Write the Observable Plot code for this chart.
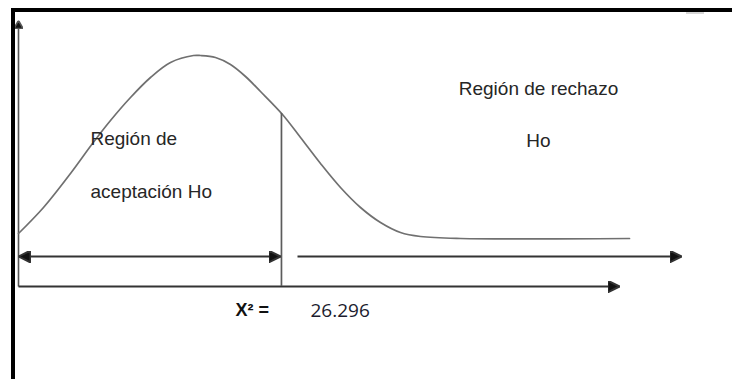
<!DOCTYPE html>
<html><head><meta charset="utf-8">
<script src="https://cdn.jsdelivr.net/npm/d3@7"></script>
<script src="https://cdn.jsdelivr.net/npm/@observablehq/plot@0.6"></script>
<style>
body{margin:0;background:#fff;}
#wrap{position:relative;width:732px;height:379px;overflow:hidden;background:#fff;}
#wrap svg{position:absolute;left:0;top:0;}
#frame{position:absolute;left:11px;top:8px;width:800px;height:400px;border-top:4px solid #000;border-left:4px solid #000;pointer-events:none;}
#smudge{position:absolute;left:686px;top:12px;width:18px;height:2px;background:#d6d6d6;}
</style></head><body>
<div id="wrap"><div id="frame"></div><div id="smudge"></div></div>
<script>
// Schematic chi-square density curve (x in statistic units, y in relative density units)
const curveX = [0, 2.5, 5.2, 7.4, 9.2, 11.2, 13.2, 15.2, 17.5, 18.2, 19.7, 21.2, 22.7, 24.2, 26.4, 28.2, 30.2, 32.2, 34.2, 36.2, 38.2, 40.2, 44.2, 61.1];
const curveY = [26.5, 39.5, 56.5, 71.5, 83, 94.5, 104.5, 112, 115.5, 115.5, 114.5, 111, 105, 97.5, 86, 74.5, 61.5, 49.5, 39.5, 32, 27, 25, 24, 24];

// Critical value
const critical = 26.296;
const criticalText = "26.296";
const statText = "X² =";

// Regions (start, end) along the statistic axis
const acceptance = [0, 26.2];
const rejection = [27.9, 66.3];
const regionArrowLevel = 15;

// Axis extents
const xAxisEnd = 60.1;
const yAxisEnd = 133;

// Region labels
const acceptText = ["Región de", "aceptación Ho"];
const acceptX = [7.2, 7.2];
const acceptY = [71, 44.5];
const rejectText = ["Región de rechazo", "Ho"];
const rejectX = [52, 52];
const rejectY = [96, 70];

const curve = curveX.map((x, i) => ({x, y: curveY[i]}));
const critHeight = d3.scaleLinear().domain(curveX).range(curveY)(critical);
const acceptLabels = acceptText.map((t, i) => ({t, x: acceptX[i], y: acceptY[i]}));
const rejectLabels = rejectText.map((t, i) => ({t, x: rejectX[i], y: rejectY[i]}));

function head(len, half) {
  return (color) => {
    const ns = "http://www.w3.org/2000/svg";
    const m = document.createElementNS(ns, "marker");
    m.setAttribute("viewBox", `0 ${-half} ${len} ${2 * half}`);
    m.setAttribute("markerUnits", "userSpaceOnUse");
    m.setAttribute("markerWidth", len);
    m.setAttribute("markerHeight", 2 * half);
    m.setAttribute("refX", len);
    m.setAttribute("refY", 0);
    m.setAttribute("orient", "auto-start-reverse");
    const p = document.createElementNS(ns, "path");
    p.setAttribute("d", `M0,${-half}L${len},0L0,${half}Z`);
    p.setAttribute("fill", "#111");
    m.appendChild(p);
    return m;
  };
}

const font = "Liberation Sans, Arial, sans-serif";
const labelStyle = {x: "x", y: "y", text: "t", lineAnchor: "bottom", fontSize: 19, fontFamily: font, fill: "#262626"};

const plot = Plot.plot({
  width: 732,
  height: 379,
  margin: 0,
  x: {domain: [-1.8, 71.4], axis: null},
  y: {domain: [-46.5, 143], axis: null},
  style: {background: "transparent", overflow: "visible"},
  marks: [
    // y axis
    Plot.link([0], {x1: 0, y1: 0, x2: 0, y2: yAxisEnd, stroke: "#555", strokeWidth: 1.6, markerEnd: head(8, 4.5)}),
    // x axis
    Plot.link([0], {x1: 0, y1: 0, x2: xAxisEnd, y2: 0, stroke: "#333", strokeWidth: 2, markerEnd: head(12, 6)}),
    // density curve
    Plot.line(curve, {x: "x", y: "y", curve: "catmull-rom", stroke: "#707070", strokeWidth: 1.7}),
    // critical value line
    Plot.ruleX([critical], {y1: 0, y2: critHeight, stroke: "#5c5c5c", strokeWidth: 1.7}),
    // acceptance region arrow
    Plot.link([0], {x1: acceptance[0], x2: acceptance[1], y1: regionArrowLevel, y2: regionArrowLevel, stroke: "#333", strokeWidth: 2, markerStart: head(12, 6), markerEnd: head(12, 6)}),
    // rejection region arrow
    Plot.link([0], {x1: rejection[0], x2: rejection[1], y1: regionArrowLevel, y2: regionArrowLevel, stroke: "#333", strokeWidth: 2, markerEnd: head(12, 6)}),
    // region labels
    Plot.text(acceptLabels, {...labelStyle, textAnchor: "start"}),
    Plot.text(rejectLabels, {...labelStyle, textAnchor: "middle"}),
    // statistic
    Plot.text([statText], {x: 21.7, y: -14.5, text: d => d, textAnchor: "start", lineAnchor: "bottom", fontSize: 18, fontWeight: "bold", fontFamily: font, fill: "#111"}),
    Plot.text([criticalText], {x: 29.2, y: -15, text: d => d, textAnchor: "start", lineAnchor: "bottom", fontSize: 19, fontFamily: "Open Sans, sans-serif", fill: "#1c1c2e", style: "letter-spacing:1.2px"})
  ]
});
document.getElementById("wrap").prepend(plot);
</script>
</body></html>
